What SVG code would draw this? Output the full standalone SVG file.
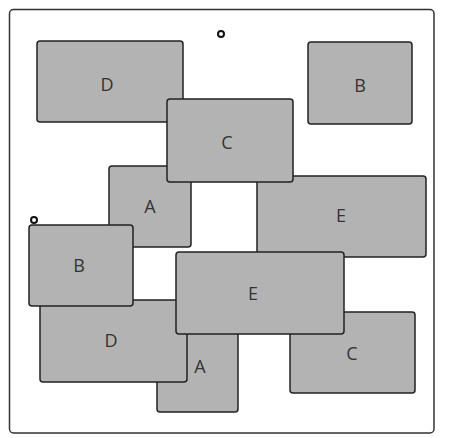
<svg xmlns="http://www.w3.org/2000/svg" width="450" height="438" viewBox="0 0 450 438">
<style>
.frame{fill:#fff;stroke:#333;stroke-width:1.5}
.n rect{fill:#b3b3b3;stroke:#222;stroke-width:1.5}
.n text{font-family:"Open Sans","Noto Sans",sans-serif;font-size:18px;fill:#333;text-anchor:middle;dominant-baseline:central}
.pt{fill:#fff;stroke:#111;stroke-width:2}
</style>
<rect class="frame" x="9.5" y="9.5" width="424.5" height="423.5" rx="4"/>
<g id="connectors"></g>
<circle class="pt" cx="221" cy="34" r="3"/>
<circle class="pt" cx="34" cy="220" r="3"/>
<g id="D1" class="n"><rect x="37" y="41" width="146" height="81" rx="3"/><text x="107" y="84">D</text></g>
<g id="A1" class="n"><rect x="109" y="166" width="82" height="81" rx="3"/><text x="150" y="206">A</text></g>
<g id="E1" class="n"><rect x="257" y="176" width="169" height="81" rx="3"/><text x="341" y="215">E</text></g>
<g id="C1" class="n"><rect x="167" y="99" width="126" height="83" rx="3"/><text x="227" y="142">C</text></g>
<g id="B1" class="n"><rect x="308" y="42" width="104" height="82" rx="3"/><text x="360" y="85">B</text></g>
<g id="A2" class="n"><rect x="157" y="314" width="81" height="98" rx="3"/><text x="200" y="366">A</text></g>
<g id="D2" class="n"><rect x="40" y="300" width="147" height="82" rx="3"/><text x="111" y="340">D</text></g>
<g id="B2" class="n"><rect x="29" y="225" width="104" height="81" rx="3"/><text x="79" y="265">B</text></g>
<g id="C2" class="n"><rect x="290" y="312" width="125" height="81" rx="3"/><text x="352" y="353">C</text></g>
<g id="E2" class="n"><rect x="176" y="252" width="168" height="82" rx="3"/><text x="253" y="293">E</text></g>
</svg>
